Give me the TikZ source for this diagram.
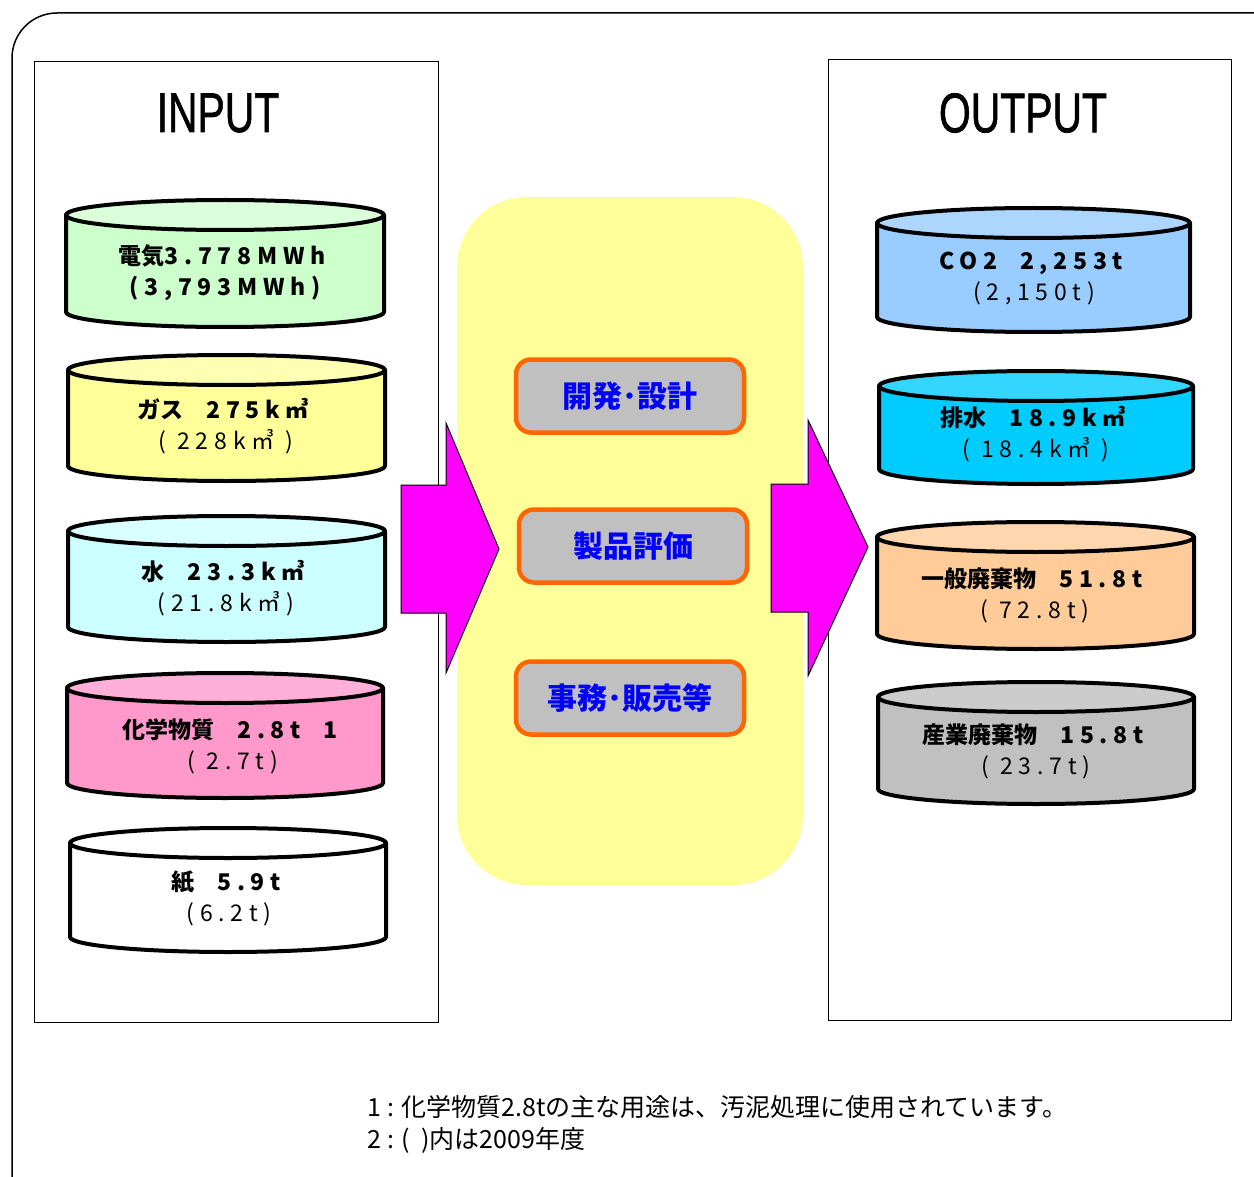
\documentclass[tikz,border=0pt]{standalone}
\usepackage{fontspec}
\setmainfont{Noto Sans CJK JP}
\newfontfamily\titlefont[FakeBold=1.2]{Liberation Sans}
\newfontfamily\numfont[LetterSpace=25]{Noto Sans CJK JP}
\usetikzlibrary{positioning}

\definecolor{elecbody}{HTML}{CCFFCC}\definecolor{electop}{HTML}{DAFFDA}
\definecolor{gasbody}{HTML}{FFFF99}\definecolor{gastop}{HTML}{FFFFB3}
\definecolor{waterbody}{HTML}{CCFFFF}\definecolor{watertop}{HTML}{DAFFFF}
\definecolor{chembody}{HTML}{FF99CC}\definecolor{chemtop}{HTML}{FFB0D8}
\definecolor{paperbody}{HTML}{FFFFFF}\definecolor{papertop}{HTML}{FFFFFF}
\definecolor{cotwobody}{HTML}{99CCFF}\definecolor{cotwotop}{HTML}{ADD6FF}
\definecolor{drainbody}{HTML}{00CCFF}\definecolor{draintop}{HTML}{33D6FF}
\definecolor{wastebody}{HTML}{FFCC99}\definecolor{wastetop}{HTML}{FFD6AD}
\definecolor{indbody}{HTML}{C0C0C0}\definecolor{indtop}{HTML}{CCCCCC}
\definecolor{padyellow}{HTML}{FFFF99}
\definecolor{taskorange}{HTML}{FF6600}
\definecolor{taskgray}{HTML}{C0C0C0}
\definecolor{flowpink}{HTML}{FF00FF}

\begin{document}
\begin{tikzpicture}[x=1pt, y=-1pt,
    drumline/.style={line width=4pt, line join=round},
    drumtext/.style={align=center, font=\fontsize{23}{31}\selectfont},
    taskbox/.style={draw=taskorange, fill=taskgray, line width=4.5pt, rounded corners=15pt,
      minimum width=228pt, minimum height=73pt, text=blue, font=\fontsize{30}{34}\selectfont\bfseries},
    flowarrow/.style={fill=flowpink, draw=black, line width=1pt},
    heading/.style={font=\titlefont\fontsize{56}{60}\selectfont, xscale=0.73}]
  \clip (0,0) rectangle (1254,1177);
  % frames
  \draw[line width=1.5pt, rounded corners=45pt] (12,13) rectangle (1300,1220);
  \draw[line width=1pt] (34,62) rectangle (438,1022);
  \draw[line width=1pt] (828,60) rectangle (1231,1020);
  \node[heading] (input) at (218,113) {INPUT};
  \node[heading] (output) at (1023,113) {OUTPUT};
  % middle
  \fill[padyellow, rounded corners=70pt] (457,197) rectangle (803,885);
  \node[taskbox] (design) at (630,396) {開発･設計};
  \node[taskbox] (eval) at (633,546) {製品評価};
  \node[taskbox] (office) at (630,698) {事務･販売等};
  % arrows
  \draw[flowarrow] (401,485) -- (446,485) -- (446,423) -- (499,549) -- (446,673) -- (446,613) -- (401,613) -- cycle;
  \draw[flowarrow] (771,484) -- (808,484) -- (808,420) -- (868,547) -- (808,676) -- (808,612) -- (771,612) -- cycle;
  % drums
  \foreach \xa/\xb/\yt/\yb/\col in {66/384/200/327/elec, 68/385/355/481/gas, 68/385/516/642/water,
      67/383/673/798/chem, 70/386/828/952/paper, 877/1190/208/332/cotwo, 879/1193/371/484/drain,
      877/1194/522/649/waste, 878/1194/682/804/ind} {
    \pgfmathsetmacro\rx{(\xb-\xa)/2}
    \pgfmathsetmacro\cx{(\xb+\xa)/2}
    \draw[drumline, fill=\col body] (\xa,\yt+15) -- (\xa,\yb-15)
      arc[start angle=180, end angle=360, x radius=\rx pt, y radius=15pt] -- (\xb,\yt+15) -- cycle;
    \draw[drumline, fill=\col top] (\cx,\yt+15) ellipse[x radius=\rx pt, y radius=15pt];
  }
  \node[drumtext] (elec) at (225,273) {\textbf{電気\numfont 3.778MWh}\\{\numfont\bfseries (3,793MWh)}};
  \node[drumtext] (gas) at (226,426) {\textbf{ガス\quad\numfont 275k㎥}\\{\numfont ( 228k㎥ )}};
  \node[drumtext] (water) at (226,588) {\textbf{水\quad\numfont 23.3k㎥}\\{\numfont (21.8k㎥)}};
  \node[drumtext] (chem) at (233,746) {\textbf{化学物質\quad\numfont 2.8t\quad 1}\\{\numfont ( 2.7t)}};
  \node[drumtext] (paper) at (229,898) {\textbf{紙\quad\numfont 5.9t}\\{\numfont (6.2t)}};
  \node[drumtext] (cotwo) at (1034,279) {\textbf{\numfont CO2\quad 2,253t}\\{\numfont (2,150t)}};
  \node[drumtext] (drain) at (1036,434) {\textbf{排水\quad\numfont 18.9k㎥}\\{\numfont ( 18.4k㎥ )}};
  \node[drumtext] (waste) at (1035,595) {\textbf{一般廃棄物\quad\numfont 51.8t}\\{\numfont ( 72.8t)}};
  \node[drumtext] (ind) at (1036,751) {\textbf{産業廃棄物\quad\numfont 15.8t}\\{\numfont ( 23.7t)}};
  % notes
  \node[anchor=north west, align=left, font=\fontsize{25}{32}\selectfont] (notes) at (364,1092)
    {1 : 化学物質2.8tの主な用途は、汚泥処理に使用されています。\\2 : (\ \ )内は2009年度};
\end{tikzpicture}
\end{document}
